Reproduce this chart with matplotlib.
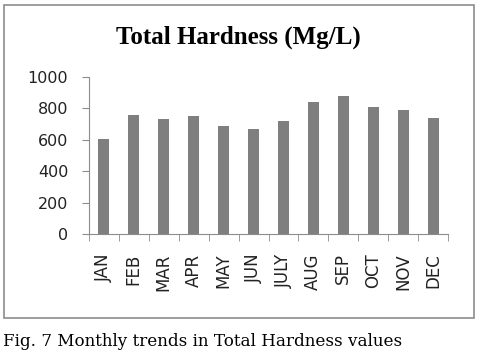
import matplotlib.pyplot as plt
import matplotlib.patches as patches
import numpy as np

months = ["JAN", "FEB", "MAR", "APR", "MAY", "JUN", "JULY", "AUG", "SEP", "OCT", "NOV", "DEC"]
hardness = [605, 760, 730, 750, 688, 669, 718, 841, 881, 811, 792, 739]
yticks = [0, 200, 400, 600, 800, 1000]

W, H = 480, 359
fig = plt.figure(figsize=(W / 100, H / 100), dpi=100)

# outer chart frame
frame = patches.Rectangle(
    (4 / W, 1 - 318 / H), 470 / W, 313 / H,
    transform=fig.transFigure, fill=False, edgecolor="#8c8c8c", linewidth=1.2,
)
fig.patches.append(frame)

ax = fig.add_axes([89 / W, 1 - 234 / H, (448 - 89) / W, (234 - 77) / H])
x = np.arange(len(months))
ax.bar(x, hardness, width=0.37, color="#7f7f7f")

ax.set_xlim(-0.5, len(months) - 0.5)
ax.set_ylim(0, 1000)
ax.set_yticks(yticks)
ax.set_yticklabels([str(v) for v in yticks], fontsize=11.5, family="DejaVu Sans", color="#222222")

ax.set_xticks(x)
ax.set_xticklabels(months, rotation=90, fontsize=12, family="DejaVu Sans", color="#222222")
ax.set_xticks(np.arange(len(months) + 1) - 0.5, minor=True)
ax.tick_params(axis="x", which="major", length=0, pad=14)
ax.tick_params(axis="x", which="minor", length=5, color="#8c8c8c")
ax.tick_params(axis="y", length=5, color="#8c8c8c", pad=10)

for s in ["top", "right"]:
    ax.spines[s].set_visible(False)
for s in ["left", "bottom"]:
    ax.spines[s].set_color("#8c8c8c")

fig.text(238 / W, 1 - 37 / H, "Total Hardness (Mg/L)", ha="center", va="center",
         fontsize=18, fontweight="bold", family="Liberation Serif")

fig.text(3 / W, 1 - 341 / H, "Fig. 7 Monthly trends in Total Hardness values",
         ha="left", va="center", fontsize=12.1, family="DejaVu Serif")

fig.savefig("out.png", dpi=100)
